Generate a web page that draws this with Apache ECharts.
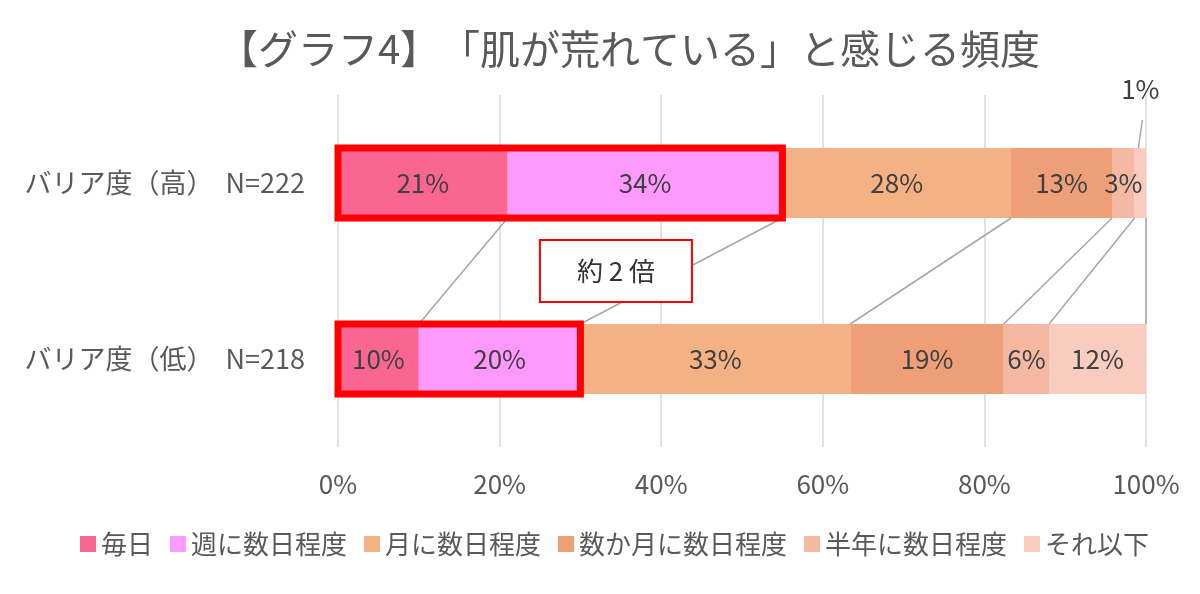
<html lang="ja">
<head>
<meta charset="utf-8">
<title>肌が荒れていると感じる頻度</title>
<script src="https://cdn.jsdelivr.net/npm/echarts@6/dist/echarts.min.js"></script>
<style>
  html, body { margin: 0; padding: 0; background: #fff; }
  #main { width: 1200px; height: 594px; }
</style>
</head>
<body>
<div id="main"></div>
<script>
// データ
var categories = ['バリア度（高）  N=222', 'バリア度（低）  N=218'];
var seriesNames = ['毎日', '週に数日程度', '月に数日程度', '数か月に数日程度', '半年に数日程度', 'それ以下'];
var highValues = [21.0, 34.0, 28.3, 12.5, 2.8, 1.4];
var lowValues = [10.0, 20.0, 33.4, 19.0, 5.6, 12.0];
var xTicks = [0, 20, 40, 60, 80, 100];
var colors = ['#F96692', '#FF99FF', '#F4B183', '#EE9F78', '#F5B9A3', '#F8CCBE'];
var noteText = '約 2 倍';

var FONT = '"Noto Sans CJK JP", "Noto Sans", sans-serif';
var BAR_W = 70;

var chart = echarts.init(document.getElementById('main'));

var series = seriesNames.map(function (name, i) {
  var hi = { value: highValues[i] };
  if (i === seriesNames.length - 1) {
    // 1% はバーの上に出す
    hi.label = { position: 'top', distance: 46 };
  }
  return {
    name: name,
    type: 'bar',
    stack: 'total',
    barWidth: BAR_W,
    itemStyle: { color: colors[i] },
    label: {
      show: true,
      position: 'inside',
      color: '#404040',
      fontSize: 26,
      fontFamily: FONT,
      formatter: function (p) { return Math.round(p.value) + '%'; }
    },
    emphasis: { disabled: true },
    data: [hi, { value: lowValues[i] }]
  };
});

chart.setOption({
  animation: false,
  title: {
    text: '【グラフ4】　「肌が荒れている」と感じる頻度',
    left: 624,
    textAlign: 'center',
    top: 24,
    textStyle: { fontSize: 40, fontWeight: 'normal', color: '#595959', fontFamily: FONT }
  },
  legend: {
    data: seriesNames,
    left: 75,
    top: 526,
    itemWidth: 16,
    itemHeight: 16,
    itemGap: 17,
    icon: 'rect',
    textStyle: { fontSize: 26, color: '#595959', fontFamily: FONT }
  },
  grid: { left: 338, right: 54, top: 95, bottom: 147 },
  xAxis: {
    type: 'value',
    min: xTicks[0],
    max: xTicks[xTicks.length - 1],
    interval: xTicks[1] - xTicks[0],
    axisLine: { show: false },
    axisTick: { show: false },
    splitLine: { lineStyle: { color: '#D9D9D9', width: 1.5 } },
    axisLabel: { formatter: '{value}%', fontSize: 26, color: '#595959', fontFamily: FONT, margin: 24 }
  },
  yAxis: {
    type: 'category',
    inverse: true,
    data: categories,
    axisLine: { show: false },
    axisTick: { show: false },
    axisLabel: { fontSize: 27, color: '#595959', fontFamily: FONT, margin: 33 }
  },
  series: series
});

// 補助線・赤枠・注記
function px(x, cat) { return chart.convertToPixel({ gridIndex: 0 }, [x, cat]); }
function cum(arr, n) { var s = 0; for (var k = 0; k < n; k++) s += arr[k]; return s; }

var g = [];
var hiCat = categories[0], loCat = categories[1];
var hiBottom = px(0, hiCat)[1] + BAR_W / 2;
var loTop = px(0, loCat)[1] - BAR_W / 2;

for (var n = 1; n <= seriesNames.length; n++) {
  var a = px(cum(highValues, n), hiCat);
  var b = px(cum(lowValues, n), loCat);
  g.push({
    type: 'line', z: 5,
    shape: { x1: a[0], y1: hiBottom, x2: b[0], y2: loTop },
    style: { stroke: '#A6A6A6', lineWidth: 1.5 }
  });
}

// 赤枠（毎日＋週に数日程度）
[[highValues, hiCat], [lowValues, loCat]].forEach(function (d) {
  var p0 = px(0, d[1]);
  var p1 = px(cum(d[0], 2), d[1]);
  g.push({
    type: 'rect', z: 20,
    shape: { x: p0[0], y: p0[1] - BAR_W / 2, width: p1[0] - p0[0], height: BAR_W },
    style: { fill: null, stroke: '#FF0000', lineWidth: 7 }
  });
});

// 1% の引き出し線
var lastStart = cum(highValues, seriesNames.length - 1);
var lastMid = px(lastStart + highValues[highValues.length - 1] / 2, hiCat);
var hiTop = lastMid[1] - BAR_W / 2;
g.push({
  type: 'line', z: 5,
  shape: { x1: lastMid[0] - 2, y1: hiTop, x2: lastMid[0] + 2, y2: hiTop - 28 },
  style: { stroke: '#A6A6A6', lineWidth: 1.5 }
});

// 約2倍
var boxC = px(34.4, hiCat);
var boxCy = (hiBottom + loTop) / 2;
g.push({
  type: 'rect', z: 30,
  shape: { x: boxC[0] - 76, y: boxCy - 31, width: 152, height: 62 },
  style: { fill: '#FFFFFF', stroke: '#FF0000', lineWidth: 2 }
});
g.push({
  type: 'text', z: 31,
  x: boxC[0], y: boxCy,
  style: {
    text: noteText, fill: '#333333', font: '26px ' + FONT,
    align: 'center', verticalAlign: 'middle'
  }
});

chart.setOption({ graphic: g });
</script>
</body>
</html>
